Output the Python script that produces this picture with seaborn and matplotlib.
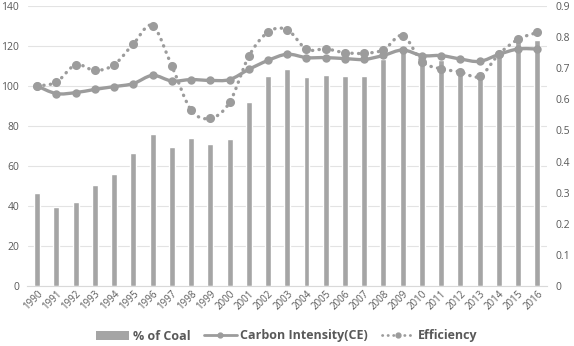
import numpy as np
import pandas as pd
import matplotlib
matplotlib.use("Agg")
import matplotlib.pyplot as plt
from matplotlib.lines import Line2D
from matplotlib.patches import Patch, PathPatch
from matplotlib.path import Path
import seaborn as sns

# data
YEARS = [str(y) for y in range(1990, 2017)]
COAL_SHARE = [46.3, 39.7, 42.0, 50.7, 55.8, 66.5, 76.0, 69.5, 74.0, 71.0,
              73.5, 92.0, 105.0, 108.3, 104.3, 105.5, 105.0, 104.8, 113.3, 118.3,
              114.0, 113.0, 107.7, 106.0, 115.5, 123.8, 123.0]
CARBON_INTENSITY = [100.0, 96.2, 96.7, 98.3, 99.7, 101.2, 105.3, 102.5, 103.2, 102.8,
                    103.2, 108.3, 112.8, 115.9, 114.2, 114.2, 113.7, 113.3, 115.3, 118.0,
                    115.2, 115.2, 113.5, 112.3, 115.8, 118.5, 118.5]
EFFICIENCY = [0.643, 0.655, 0.711, 0.693, 0.711, 0.778, 0.837, 0.707, 0.566, 0.539,
              0.590, 0.738, 0.816, 0.824, 0.761, 0.762, 0.750, 0.748, 0.759, 0.805,
              0.721, 0.698, 0.688, 0.674, 0.745, 0.793, 0.815]
LEFT_TICKS = [0, 20, 40, 60, 80, 100, 120, 140]
RIGHT_TICKS = [0, 0.1, 0.2, 0.3, 0.4, 0.5, 0.6, 0.7, 0.8, 0.9]
RIGHT_LABELS = ["0", "0.1", "0.2", "0.3", "0.4", "0.5", "0.6", "0.7", "0.8", "0.9"]

df = pd.DataFrame({"year": YEARS, "coal": COAL_SHARE,
                   "ce": CARBON_INTENSITY, "eff": EFFICIENCY})

sns.set_theme(style="white")
plt.rcParams["font.family"] = ["Open Sans", "DejaVu Sans"]

BAR_C = "#a5a5a5"
LINE_C = "#9c9c9c"
TEXT_C = "#595959"
GRID_C = "#e3e3e3"
DOTS = (0, (0.1, 1.9))


def smooth_curve(ax, values, **kw):
    # Excel-style smoothed line: cubic Bezier through the category points
    pts = np.column_stack([np.arange(len(values)), values]).astype(float)
    n = len(pts)
    verts, codes = [pts[0]], [Path.MOVETO]
    for i in range(n - 1):
        p0, p1 = pts[max(i - 1, 0)], pts[i]
        p2, p3 = pts[i + 1], pts[min(i + 2, n - 1)]
        verts += [p1 + (p2 - p0) / 6, p2 - (p3 - p1) / 6, p2]
        codes += [Path.CURVE4] * 3
    patch = PathPatch(Path(verts, codes), facecolor="none", **kw)
    ax.add_patch(patch)


fig = plt.figure(figsize=(5.74, 3.46), dpi=100)
ax = fig.add_axes([27.5 / 574, 60 / 346, 519.5 / 574, 280 / 346])
ax2 = ax.twinx()

sns.barplot(data=df, x="year", y="coal", color=BAR_C, width=0.31,
            saturation=1, ax=ax, zorder=2)
smooth_curve(ax, CARBON_INTENSITY, edgecolor=LINE_C, linewidth=2.4, zorder=4,
             capstyle="round", joinstyle="round")
sns.pointplot(data=df, x="year", y="ce", color=LINE_C, ax=ax,
              markers="o", markersize=4, linestyles="none", zorder=5)
smooth_curve(ax2, EFFICIENCY, edgecolor=LINE_C, linewidth=2.4, zorder=4,
             linestyle=DOTS, capstyle="round")
sns.pointplot(data=df, x="year", y="eff", color=LINE_C, ax=ax2,
              markers="o", markersize=4.5, linestyles="none", zorder=5)

ax.set_xlim(-0.5, len(YEARS) - 0.5)
ax2.set_xlim(-0.5, len(YEARS) - 0.5)
ax.set_ylim(0, 140)
ax2.set_ylim(0, 0.9)
ax.set_yticks(LEFT_TICKS)
ax2.set_yticks(RIGHT_TICKS)
ax2.set_yticklabels(RIGHT_LABELS)

ax.yaxis.grid(True, color=GRID_C, linewidth=0.8, zorder=0)
ax.set_axisbelow(True)
for a in (ax, ax2):
    for s in a.spines.values():
        s.set_visible(False)
    a.set_xlabel("")
    a.set_ylabel("")
ax.spines["bottom"].set_visible(True)
ax.spines["bottom"].set_color("#d9d9d9")
ax.spines["bottom"].set_linewidth(0.8)

ax.tick_params(axis="y", length=0, labelsize=7.5, labelcolor=TEXT_C, pad=6)
ax2.tick_params(axis="y", length=0, labelsize=7.5, labelcolor=TEXT_C, pad=6)
ax.tick_params(axis="x", length=0, labelsize=7, labelcolor=TEXT_C, pad=2)
for lbl in ax.get_xticklabels():
    lbl.set_rotation(45)
    lbl.set_ha("right")
    lbl.set_rotation_mode("anchor")

handles = [
    Patch(facecolor=BAR_C, edgecolor="none"),
    Line2D([], [], color=LINE_C, lw=2, marker="o", markersize=3.5),
    Line2D([], [], color=LINE_C, lw=2, ls=DOTS, marker="o",
           markersize=3.5, dash_capstyle="round"),
]
labels = ["% of Coal", "Carbon Intensity(CE)", "Efficiency"]
leg = fig.legend(handles, labels, loc="center", bbox_to_anchor=(0.5, 10 / 346),
                 ncol=3, frameon=False, fontsize=9, handlelength=2.6,
                 columnspacing=1.1, handletextpad=0.3)
for t in leg.get_texts():
    t.set_color(TEXT_C)
    t.set_fontweight("bold")

fig.savefig("out.png", dpi=100)
